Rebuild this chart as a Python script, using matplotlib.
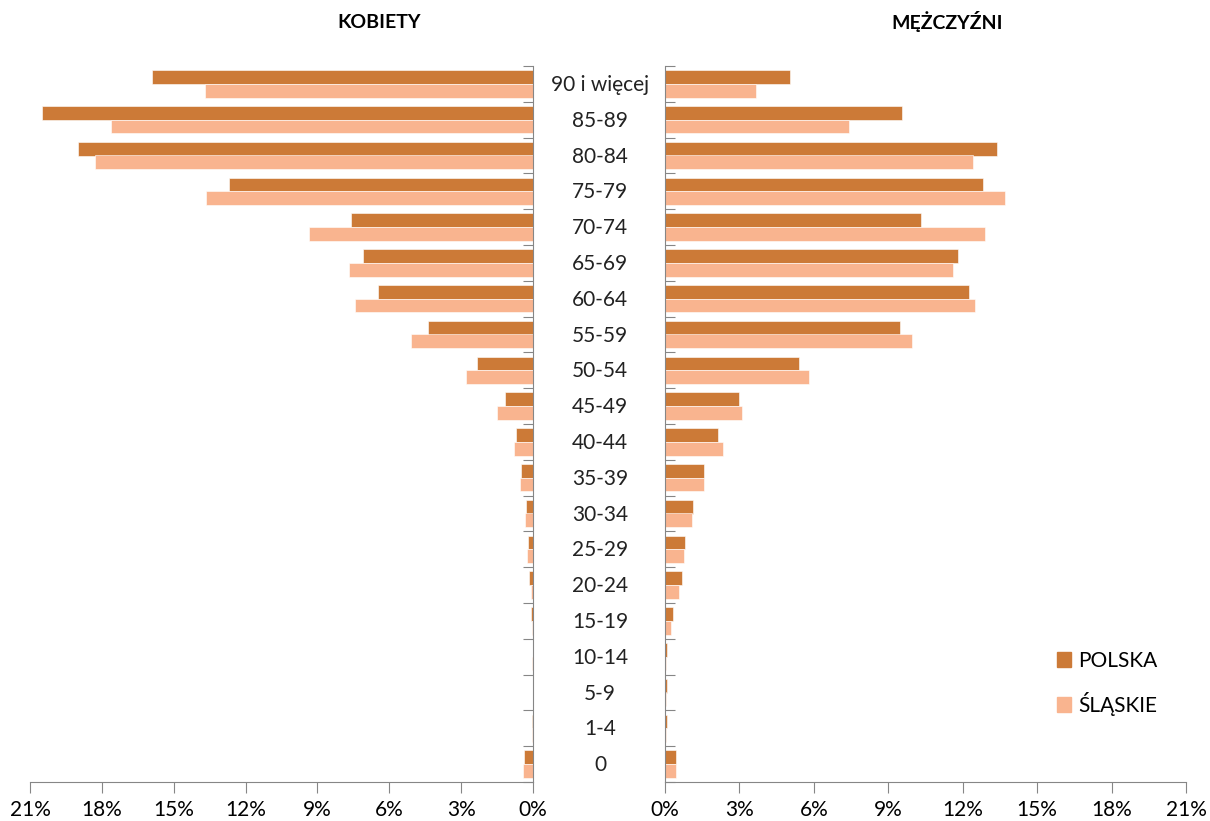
import numpy as np
import matplotlib
matplotlib.use("Agg")
import matplotlib.pyplot as plt
from matplotlib.patches import Patch
import matplotlib.transforms as mtransforms

plt.rcParams["font.family"] = ["Lato", "DejaVu Sans"]

# age groups from youngest (bottom) to oldest (top)
ages = ["0", "1-4", "5-9", "10-14", "15-19", "20-24", "25-29", "30-34", "35-39",
        "40-44", "45-49", "50-54", "55-59", "60-64", "65-69", "70-74", "75-79",
        "80-84", "85-89", "90 i więcej"]

# kobiety (%)
k_polska = [0.38, 0.05, 0.01, 0.02, 0.10, 0.17, 0.21, 0.29, 0.50, 0.71, 1.17,
            2.34, 4.38, 6.47, 7.10, 7.60, 12.70, 19.00, 20.50, 15.90]
k_slaskie = [0.43, 0.03, 0.01, 0.05, 0.05, 0.10, 0.25, 0.33, 0.54, 0.79, 1.50,
             2.80, 5.10, 7.43, 7.70, 9.35, 13.65, 18.30, 17.60, 13.70]

# mezczyzni (%)
m_polska = [0.46, 0.09, 0.07, 0.09, 0.31, 0.67, 0.80, 1.13, 1.57, 2.14, 2.98,
            5.40, 9.48, 12.26, 11.80, 10.30, 12.80, 13.40, 9.56, 5.04]
m_slaskie = [0.46, 0.06, 0.05, 0.06, 0.23, 0.55, 0.77, 1.09, 1.57, 2.34, 3.10,
             5.80, 9.96, 12.50, 11.60, 12.90, 13.70, 12.40, 7.42, 3.67]

c_polska = "#CC7A37"
c_slaskie = "#F9B48F"
axis_col = "#868686"

fig = plt.figure(figsize=(12.1, 8.21), dpi=100)
axL = fig.add_axes([30 / 1210, 1 - 782 / 821, 503 / 1210, 716 / 821])
axR = fig.add_axes([665 / 1210, 1 - 782 / 821, 521 / 1210, 716 / 821])

y = np.arange(len(ages))
h = 0.39

for ax, pol, sl in [(axL, k_polska, k_slaskie), (axR, m_polska, m_slaskie)]:
    ax.barh(y + 0.19, pol, height=h, color=c_polska, edgecolor="white", linewidth=0.4)
    ax.barh(y - 0.19, sl, height=h, color=c_slaskie, edgecolor="white", linewidth=0.4)
    ax.set_ylim(-0.5, len(ages) - 0.5)
    ax.set_yticks(np.arange(len(ages) + 1) - 0.5)
    ax.set_yticklabels([])
    ax.tick_params(axis="y", direction="in", length=7, color=axis_col)
    ax.set_xticks(np.arange(0, 22, 3))
    ax.set_xticklabels([f"{v}%" for v in range(0, 22, 3)], fontsize=15)
    ax.tick_params(axis="x", direction="out", length=8, color=axis_col, pad=5)
    ax.spines["top"].set_visible(False)
    ax.spines["bottom"].set_color(axis_col)

axL.set_xlim(21, 0)
axR.set_xlim(0, 21)
axL.spines["left"].set_visible(False)
axL.spines["right"].set_color(axis_col)
axL.yaxis.tick_right()
axR.spines["right"].set_visible(False)
axR.spines["left"].set_color(axis_col)

# category labels in the gap between the panels
trans = mtransforms.blended_transform_factory(fig.transFigure, axL.transData)
for i, a in enumerate(ages):
    axL.text(600 / 1210, i - 0.03, a, transform=trans, ha="center", va="center",
             fontsize=15, color="#222222")

fig.text(379 / 1210, 1 - 22 / 821, "KOBIETY", ha="center", va="center",
         fontsize=14, fontweight="bold")
fig.text(947 / 1210, 1 - 22 / 821, "MĘŻCZYŹNI", ha="center", va="center",
         fontsize=14, fontweight="bold")

handles = [Patch(color=c_polska, label="POLSKA"), Patch(color=c_slaskie, label="ŚLĄSKIE")]
fig.legend(handles=handles, loc="upper left", bbox_to_anchor=(1038 / 1210, 1 - 632 / 821),
           frameon=False, fontsize=15, handlelength=0.7, handleheight=0.7,
           handletextpad=0.35, labelspacing=1.0)

fig.savefig("out.png", dpi=100)
